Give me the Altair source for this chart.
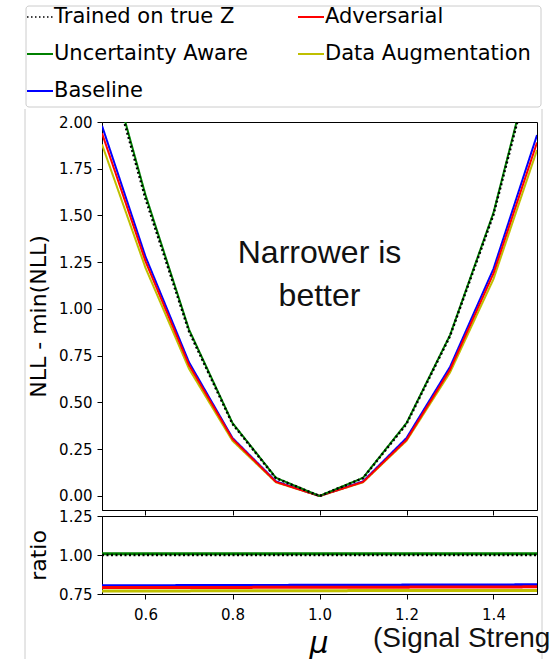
import altair as alt
import pandas as pd

# ---------------- data ----------------
mu = [0.5, 0.6, 0.7, 0.8, 0.9, 1.0, 1.1, 1.2, 1.3, 1.4, 1.5]

series_names = ["Trained on true Z", "Adversarial", "Uncertainty Aware",
                "Data Augmentation", "Baseline"]

nll_true_z = [2.43, 1.59, 0.88, 0.385, 0.095, 0.0, 0.095, 0.385, 0.855, 1.505, 2.41]
nll_uncert = [2.45, 1.61, 0.89, 0.39, 0.097, 0.0, 0.097, 0.39, 0.86, 1.515, 2.43]
nll_baseline = [1.98, 1.28, 0.715, 0.31, 0.078, 0.0, 0.078, 0.31, 0.69, 1.215, 1.93]
nll_advers = [1.94, 1.255, 0.70, 0.305, 0.075, 0.0, 0.075, 0.30, 0.675, 1.19, 1.89]
nll_data_aug = [1.88, 1.22, 0.68, 0.295, 0.073, 0.0, 0.073, 0.295, 0.66, 1.16, 1.85]

ratio_true_z = [1.0, 1.0, 1.0, 1.0, 1.0, 1.0, 1.0, 1.0, 1.0, 1.0, 1.0]
ratio_uncert = [1.008, 1.008, 1.008, 1.008, 1.008, 1.008, 1.008, 1.008, 1.008, 1.008, 1.008]
ratio_baseline = [0.803, 0.803, 0.804, 0.805, 0.805, 0.806, 0.806, 0.807, 0.808, 0.808, 0.809]
ratio_advers = [0.791, 0.791, 0.792, 0.792, 0.793, 0.793, 0.794, 0.794, 0.795, 0.795, 0.796]
ratio_data_aug = [0.770, 0.770, 0.770, 0.771, 0.771, 0.771, 0.772, 0.772, 0.772, 0.773, 0.773]

x_ticks = [0.6, 0.8, 1.0, 1.2, 1.4]
y_ticks_top = [0.0, 0.25, 0.5, 0.75, 1.0, 1.25, 1.5, 1.75, 2.0]
y_ticks_ratio = [0.75, 1.0, 1.25]

colors = {
    "Trained on true Z": "black",
    "Adversarial": "#ff0000",
    "Uncertainty Aware": "#008000",
    "Data Augmentation": "#bfbf00",
    "Baseline": "#0000ff",
}

top_df = pd.DataFrame({
    "mu": mu * 5,
    "val": nll_data_aug + nll_baseline + nll_advers + nll_uncert + nll_true_z,
    "series": (["Data Augmentation"] * 11 + ["Baseline"] * 11 + ["Adversarial"] * 11
               + ["Uncertainty Aware"] * 11 + ["Trained on true Z"] * 11),
})
ratio_df = pd.DataFrame({
    "mu": mu * 5,
    "val": ratio_data_aug + ratio_baseline + ratio_advers + ratio_uncert + ratio_true_z,
    "series": (["Data Augmentation"] * 11 + ["Baseline"] * 11 + ["Adversarial"] * 11
               + ["Uncertainty Aware"] * 11 + ["Trained on true Z"] * 11),
})

draw_order = ["Data Augmentation", "Baseline", "Adversarial", "Uncertainty Aware", "Trained on true Z"]

W, H_TOP, H_BOT = 435, 388, 78
xscale = alt.Scale(domain=[0.5, 1.5], nice=False, zero=False)


def series_layers(df, yscale, yaxis, xaxis, width_main):
    layers = []
    for s in draw_order:
        dotted = s == "Trained on true Z"
        layers.append(
            alt.Chart(df).transform_filter(alt.datum.series == s).mark_line(
                color=colors[s],
                strokeWidth=2.4 if dotted else width_main,
                strokeDash=[2, 2.5] if dotted else [1, 0],
                clip=True,
            ).encode(
                x=alt.X("mu:Q", scale=xscale, axis=xaxis),
                y=alt.Y("val:Q", scale=yscale, axis=yaxis),
            )
        )
    return layers


top_xaxis = alt.Axis(values=x_ticks, labels=False, title=None, grid=False)
top_yaxis = alt.Axis(values=y_ticks_top, format=".2f", title="NLL - min(NLL)", grid=False)
top_layers = series_layers(top_df, alt.Scale(domain=[-0.075, 2.0], nice=False, zero=False),
                           top_yaxis, top_xaxis, 2)

# annotation in the plot
note_df = pd.DataFrame({"mu": [1.0, 1.0], "val": [1.30, 1.07], "t": ["Narrower is", "better"]})
note = alt.Chart(note_df).mark_text(font="Liberation Sans", fontSize=32, color="#111111",
                                     baseline="middle", align="center").encode(
    x=alt.X("mu:Q", scale=xscale), y=alt.Y("val:Q"), text="t:N")

# legend (drawn as decoration above the top panel)
legend_items = [
    ("Trained on true Z", -75, -105), ("Adversarial", 196, -105),
    ("Uncertainty Aware", -75, -68), ("Data Augmentation", 196, -68),
    ("Baseline", -75, -31),
]
deco = []
deco.append(alt.Chart(pd.DataFrame({"a": [0]})).mark_rect(
    fill="white", stroke="#cccccc", strokeWidth=1, cornerRadius=3).encode(
    x=alt.value(-76), x2=alt.value(439), y=alt.value(-116), y2=alt.value(-15)))
for xx in (-77, 440):
    deco.append(alt.Chart(pd.DataFrame({"a": [0]})).mark_rule(color="#cccccc", strokeWidth=1).encode(
        x=alt.value(xx), y=alt.value(-13), y2=alt.value(537)))
for name, lx, ly in legend_items:
    dotted = name == "Trained on true Z"
    deco.append(alt.Chart(pd.DataFrame({"a": [0]})).mark_rule(
        color=colors[name], strokeWidth=1.6 if dotted else 2,
        strokeDash=[1.5, 2.5] if dotted else [1, 0]).encode(
        x=alt.value(lx), x2=alt.value(lx + 26), y=alt.value(ly), y2=alt.value(ly)))
    deco.append(alt.Chart(pd.DataFrame({"t": [name]})).mark_text(
        font="DejaVu Sans", fontSize=21, color="black", align="left", baseline="middle").encode(
        x=alt.value(lx + 27), y=alt.value(ly), text="t:N"))

top = alt.layer(*deco, *top_layers, note).properties(width=W, height=H_TOP)

bot_xaxis = alt.Axis(values=x_ticks, format=".1f", title=None, grid=False, labelPadding=8)
bot_yaxis = alt.Axis(values=y_ticks_ratio, format=".2f", title="ratio", grid=False)
bot_layers = series_layers(ratio_df, alt.Scale(domain=[0.75, 1.25], nice=False, zero=False),
                           bot_yaxis, bot_xaxis, 3)

mu_title = alt.Chart(pd.DataFrame({"t": ["μ"]})).mark_text(
    font="DejaVu Sans", fontSize=30, fontStyle="italic", color="black",
    align="center", baseline="middle").encode(x=alt.value(217), y=alt.value(128), text="t:N")
sig_title = alt.Chart(pd.DataFrame({"t": ["(Signal Strength)"]})).mark_text(
    font="Liberation Sans", fontSize=28, color="#111111", limit=180, ellipsis="\u200b",
    align="left", baseline="middle").encode(x=alt.value(271), y=alt.value(123), text="t:N")

bottom = alt.layer(*bot_layers, mu_title, sig_title).properties(width=W, height=H_BOT)

chart = alt.vconcat(top, bottom, spacing=6, bounds="flush").properties(
    padding={"left": 24, "top": 5, "right": 0, "bottom": 0},
    background="white",
).configure_view(stroke="black", strokeWidth=1).configure_axis(
    labelFont="DejaVu Sans", labelFontSize=15, labelColor="black",
    tickColor="black", domainColor="black", tickSize=5, labelPadding=5,
    titleFont="DejaVu Sans", titleFontSize=22, titleColor="black",
    titleFontWeight="normal", titlePadding=8, grid=False,
)

chart.save("out.html", embed_options={"renderer": "svg", "actions": False})
